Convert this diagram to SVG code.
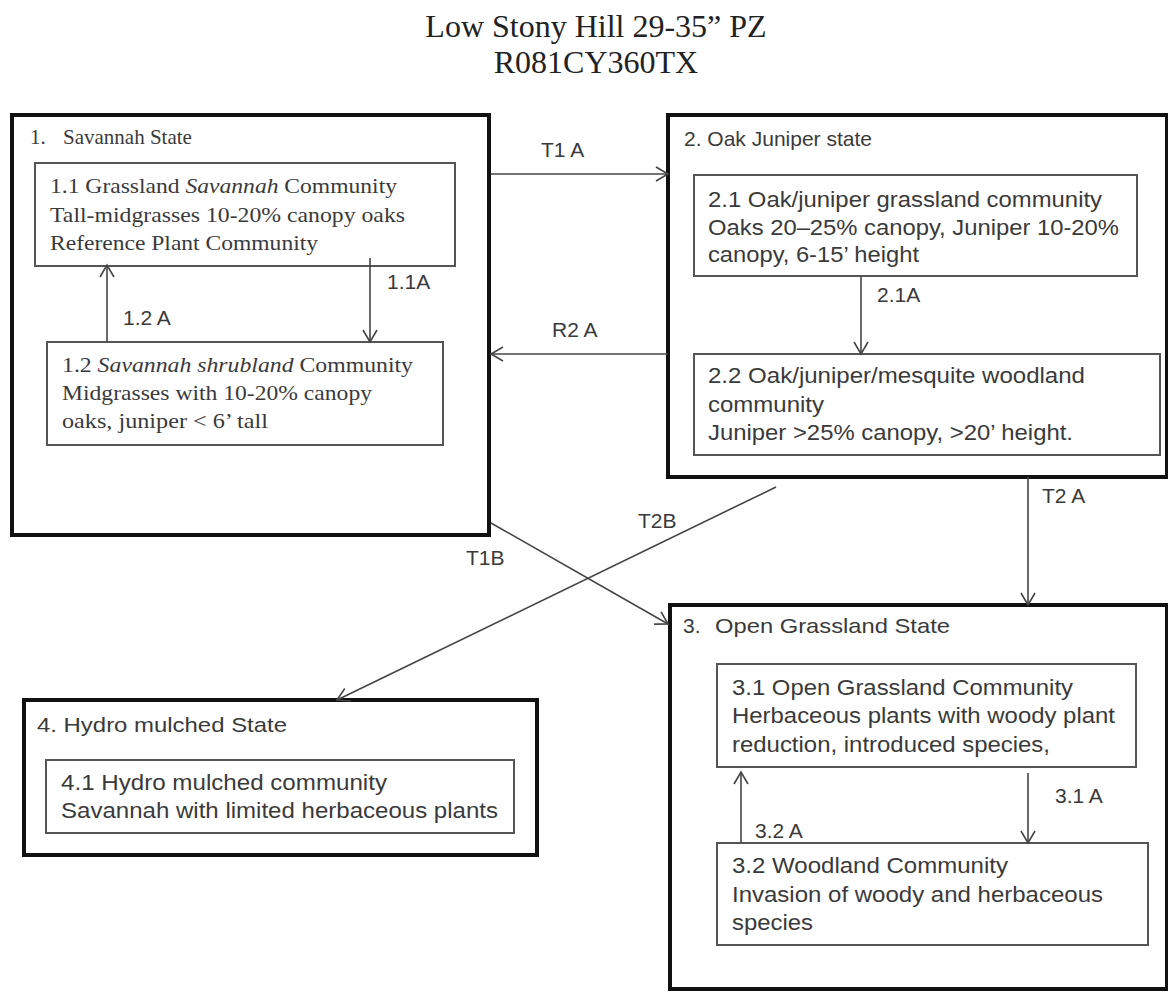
<svg xmlns="http://www.w3.org/2000/svg" width="1168" height="994" viewBox="0 0 1168 994">
<style>
.bg{fill:#fff}
.state{fill:none;stroke:#111;stroke-width:4}
.box{fill:#fff;stroke:#555;stroke-width:2}
.serif{font-family:"Liberation Serif","Times New Roman",serif;fill:#3a3a3a}
.sans{font-family:"Liberation Sans",Arial,sans-serif;fill:#3a3a3a}
.title{font-family:"Liberation Serif","Times New Roman",serif;fill:#222;font-size:32px;text-anchor:middle}
.t22{font-size:22px}
.st{font-size:21px}
.lbl{font-family:"Liberation Sans",Arial,sans-serif;fill:#3a3a3a;font-size:21px}
.conn{fill:none;stroke:#444;stroke-width:1.6}
</style>
<defs>
<marker id="arr" viewBox="0 0 14 16" refX="13" refY="8" markerWidth="14" markerHeight="16" orient="auto" markerUnits="userSpaceOnUse" overflow="visible">
<path d="M1,1 L13,8 L1,15" fill="none" stroke="#444" stroke-width="1.6"/>
</marker>
</defs>
<rect class="bg" x="0" y="0" width="1168" height="994"/>

<g id="title">
<text class="title" x="596" y="37">Low Stony Hill 29-35” PZ</text>
<text class="title" x="596" y="73">R081CY360TX</text>
</g>

<g id="state1">
<rect class="state" x="12" y="115" width="477" height="420"/>
<text class="serif st" y="144"><tspan x="30">1.</tspan><tspan x="63">Savannah State</tspan></text>
<g id="comm1_1">
<rect class="box" x="35" y="163" width="420" height="103"/>
<text class="serif t22" x="50" y="193" textLength="347" lengthAdjust="spacingAndGlyphs">1.1 Grassland <tspan font-style="italic">Savannah</tspan> Community</text>
<text class="serif t22" x="50" y="222" textLength="355" lengthAdjust="spacingAndGlyphs">Tall-midgrasses  10-20% canopy oaks</text>
<text class="serif t22" x="50" y="250" textLength="268" lengthAdjust="spacingAndGlyphs">Reference Plant Community</text>
</g>
<g id="comm1_2">
<rect class="box" x="47" y="342" width="396" height="103"/>
<text class="serif t22" x="62" y="372" textLength="351" lengthAdjust="spacingAndGlyphs">1.2 <tspan font-style="italic">Savannah shrubland</tspan> Community</text>
<text class="serif t22" x="62" y="400" textLength="310" lengthAdjust="spacingAndGlyphs">Midgrasses with 10-20% canopy</text>
<text class="serif t22" x="62" y="428" textLength="206" lengthAdjust="spacingAndGlyphs">oaks, juniper &lt; 6’ tall</text>
</g>
</g>

<g id="state2">
<rect class="state" x="668" y="115" width="499" height="362"/>
<text class="sans st" x="684" y="146">2. Oak Juniper state</text>
<g id="comm2_1">
<rect class="box" x="694" y="175" width="443" height="101"/>
<text class="sans t22" x="708" y="207" textLength="394" lengthAdjust="spacingAndGlyphs">2.1 Oak/juniper grassland community</text>
<text class="sans t22" x="708" y="235" textLength="411" lengthAdjust="spacingAndGlyphs">Oaks 20–25% canopy, Juniper 10-20%</text>
<text class="sans t22" x="708" y="262" textLength="211" lengthAdjust="spacingAndGlyphs">canopy, 6-15’ height</text>
</g>
<g id="comm2_2">
<rect class="box" x="694" y="354" width="466" height="101"/>
<text class="sans t22" x="708" y="383" textLength="377" lengthAdjust="spacingAndGlyphs">2.2 Oak/juniper/mesquite woodland</text>
<text class="sans t22" x="708" y="412" textLength="116" lengthAdjust="spacingAndGlyphs">community</text>
<text class="sans t22" x="708" y="440" textLength="365" lengthAdjust="spacingAndGlyphs">Juniper &gt;25% canopy, &gt;20’ height.</text>
</g>
</g>

<g id="state3">
<rect class="state" x="670" y="605" width="497" height="384"/>
<text class="sans st" y="633"><tspan x="683">3.</tspan><tspan x="715" textLength="235" lengthAdjust="spacingAndGlyphs">Open Grassland State</tspan></text>
<g id="comm3_1">
<rect class="box" x="717" y="664" width="419" height="103"/>
<text class="sans t22" x="732" y="695" textLength="341" lengthAdjust="spacingAndGlyphs">3.1 Open Grassland Community</text>
<text class="sans t22" x="732" y="723" textLength="383" lengthAdjust="spacingAndGlyphs">Herbaceous plants with woody plant</text>
<text class="sans t22" x="732" y="752" textLength="318" lengthAdjust="spacingAndGlyphs">reduction, introduced species,</text>
</g>
<g id="comm3_2">
<rect class="box" x="717" y="843" width="431" height="102"/>
<text class="sans t22" x="732" y="873" textLength="276" lengthAdjust="spacingAndGlyphs">3.2 Woodland Community</text>
<text class="sans t22" x="732" y="902" textLength="371" lengthAdjust="spacingAndGlyphs">Invasion of woody and herbaceous</text>
<text class="sans t22" x="732" y="930" textLength="81" lengthAdjust="spacingAndGlyphs">species</text>
</g>
</g>

<g id="state4">
<rect class="state" x="24" y="700" width="513" height="155"/>
<text class="sans st" x="37" y="732" textLength="250" lengthAdjust="spacingAndGlyphs">4. Hydro mulched State</text>
<g id="comm4_1">
<rect class="box" x="46" y="760" width="468" height="73"/>
<text class="sans t22" x="61" y="790" textLength="326" lengthAdjust="spacingAndGlyphs">4.1 Hydro mulched community</text>
<text class="sans t22" x="61" y="818" textLength="437" lengthAdjust="spacingAndGlyphs">Savannah with limited herbaceous plants</text>
</g>
</g>

<g id="connectors">
<line class="conn" x1="491" y1="174" x2="668" y2="174" marker-end="url(#arr)"/>
<line class="conn" x1="668" y1="354" x2="491" y2="354" marker-end="url(#arr)"/>
<line class="conn" x1="370" y1="258" x2="370" y2="342" marker-end="url(#arr)"/>
<line class="conn" x1="107" y1="342" x2="107" y2="265" marker-end="url(#arr)"/>
<line class="conn" x1="861" y1="276" x2="861" y2="354" marker-end="url(#arr)"/>
<line class="conn" x1="1028" y1="477" x2="1028" y2="605" marker-end="url(#arr)"/>
<line class="conn" x1="491" y1="523" x2="668" y2="624" marker-end="url(#arr)"/>
<line class="conn" x1="776" y1="487" x2="337" y2="700" marker-end="url(#arr)"/>
<line class="conn" x1="1028" y1="773" x2="1028" y2="843" marker-end="url(#arr)"/>
<line class="conn" x1="741" y1="843" x2="741" y2="772" marker-end="url(#arr)"/>
<text class="lbl" x="541" y="157">T1 A</text>
<text class="lbl" x="552" y="337">R2 A</text>
<text class="lbl" x="387" y="289">1.1A</text>
<text class="lbl" x="123" y="325">1.2 A</text>
<text class="lbl" x="877" y="302">2.1A</text>
<text class="lbl" x="1042" y="503">T2 A</text>
<text class="lbl" x="638" y="528">T2B</text>
<text class="lbl" x="466" y="565">T1B</text>
<text class="lbl" x="1055" y="803">3.1 A</text>
<text class="lbl" x="755" y="838">3.2 A</text>
</g>
</svg>
